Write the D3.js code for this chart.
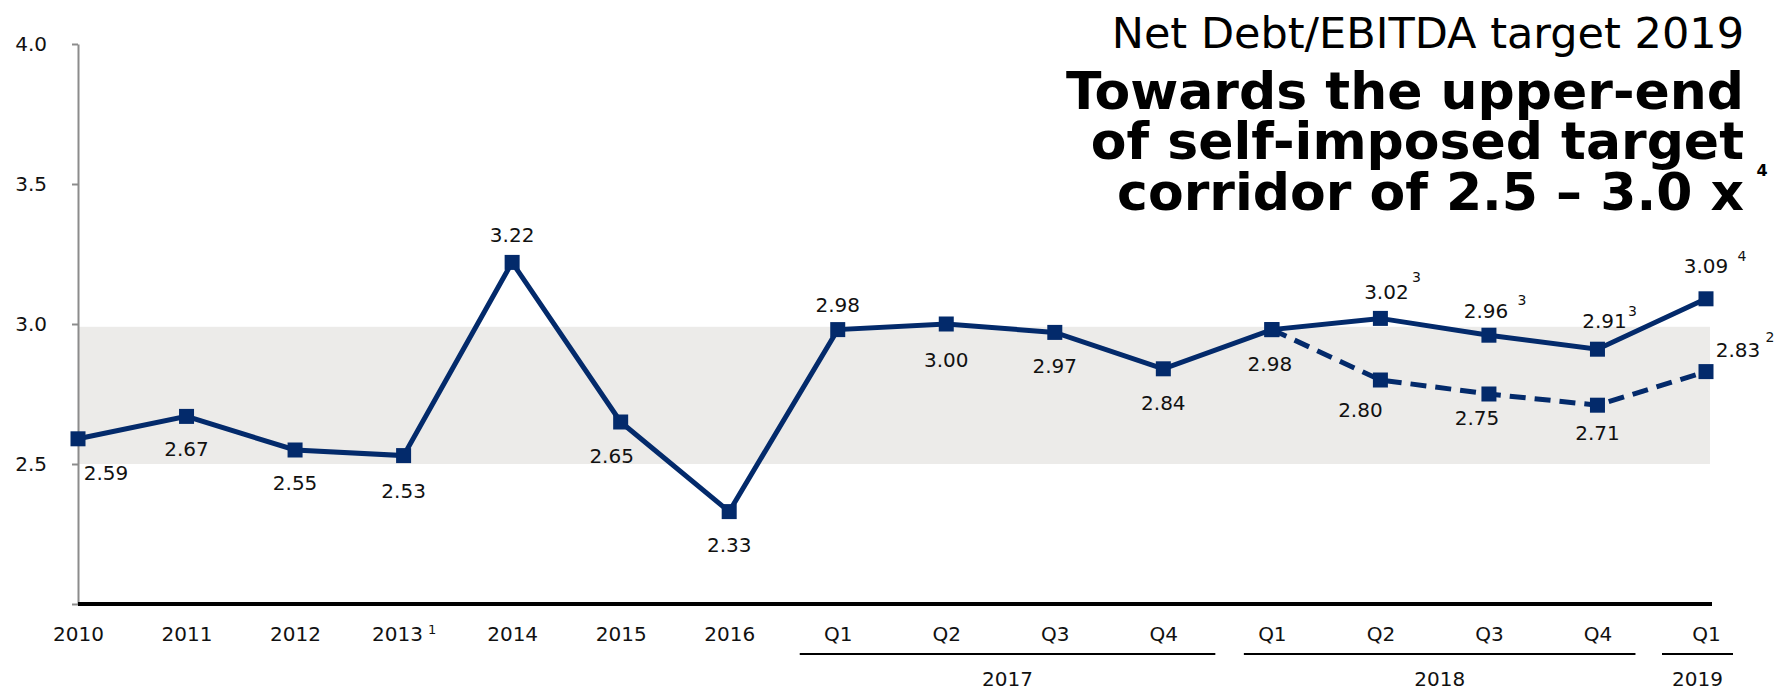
<!DOCTYPE html>
<html>
<head>
<meta charset="utf-8">
<script src="https://cdn.jsdelivr.net/npm/d3@7"></script>
<style>
  html, body { margin: 0; padding: 0; background: #ffffff; }
  svg { display: block; font-family: "DejaVu Sans", Verdana, sans-serif; }
</style>
</head>
<body>
<svg id="chart" width="1776" height="691"></svg>
<script>
// ---------- data ----------
const categories = ["2010","2011","2012","2013","2014","2015","2016","Q1","Q2","Q3","Q4","Q1","Q2","Q3","Q4","Q1"];
const categoryNotes = ["","","","1","","","","","","","","","","","",""];
const solidValues = [2.59, 2.67, 2.55, 2.53, 3.22, 2.65, 2.33, 2.98, 3.00, 2.97, 2.84, 2.98, 3.02, 2.96, 2.91, 3.09];
const solidNotes  = ["","","","","","","","","","","","","3","3","3","4"];
const dashedStart = 11;
const dashedValues = [2.98, 2.80, 2.75, 2.71, 2.83];
const dashedNotes  = ["","","","","2"];
const groupYears = ["2017", "2018", "2019"];
const groupFrom  = [7, 11, 15];
const groupTo    = [10, 14, 15];
const yTicks = [2.0, 2.5, 3.0, 3.5, 4.0];
const yDomain = [2.0, 4.0];
const corridor = [2.5, 2.99];
const titleLine = "Net Debt/EBITDA target 2019";
const headline = ["Towards the upper-end", "of self-imposed target", "corridor of 2.5 \u2013 3.0 x"];
const headlineNote = "4";

// ---------- layout ----------
const navy = "#032a6b";
const svg = d3.select("#chart");
const x = d3.scalePoint().domain(d3.range(categories.length)).range([78, 1706]);
const y = d3.scaleLinear().domain(yDomain).range([604, 44]);

// corridor band
svg.append("rect")
  .attr("x", x(0)).attr("width", 1710 - x(0))
  .attr("y", y(corridor[1])).attr("height", y(corridor[0]) - y(corridor[1]))
  .attr("fill", "#ecebe9");

// y axis
const yAxis = d3.axisLeft(y).tickValues(yTicks).tickSize(6).tickSizeOuter(0).tickPadding(25)
  .tickFormat(d => d === 2.0 ? "" : d3.format(".1f")(d));
const gy = svg.append("g").attr("transform", `translate(${x(0)},0)`).call(yAxis);
gy.selectAll("path, line").attr("stroke", "#8c8c8c").attr("stroke-width", 2);
gy.selectAll("text").attr("font-size", 20).attr("fill", "#111").attr("font-family", "DejaVu Sans, Verdana, sans-serif");

// x axis
const xAxis = d3.axisBottom(x).tickSize(0).tickPadding(23).tickFormat(i => categories[i]);
const gx = svg.append("g").attr("transform", `translate(0,${y(yDomain[0])})`).call(xAxis);
gx.select(".domain").remove();
gx.selectAll("text").attr("font-size", 20).attr("fill", "#111").attr("font-family", "DejaVu Sans, Verdana, sans-serif")
  .each(function(i) {
    if (categoryNotes[i]) {
      d3.select(this).append("tspan").attr("font-size", 13).attr("dy", "-0.55em").attr("dx", 5).text(categoryNotes[i]);
    }
  });
svg.append("line")
  .attr("x1", x(0)).attr("x2", x(categories.length - 1) + 6)
  .attr("y1", y(yDomain[0])).attr("y2", y(yDomain[0]))
  .attr("stroke", "#000").attr("stroke-width", 4);

// group underlines + years
const padL = [38, 28, 44], padR = [52, 38, 27];
groupYears.forEach((yr, k) => {
  const x1 = x(groupFrom[k]) - padL[k], x2 = x(groupTo[k]) + padR[k];
  svg.append("line").attr("x1", x1).attr("x2", x2).attr("y1", 654).attr("y2", 654)
    .attr("stroke", "#000").attr("stroke-width", 2);
  svg.append("text").attr("x", (x1 + x2) / 2).attr("y", 686).attr("text-anchor", "middle")
    .attr("font-size", 20).attr("fill", "#111").text(yr);
});

// lines
const line = d3.line().x(d => x(d.i)).y(d => y(d.v));
const solid = solidValues.map((v, i) => ({ i, v }));
const dashed = dashedValues.map((v, k) => ({ i: dashedStart + k, v }));

svg.append("path").datum(dashed).attr("d", line)
  .attr("fill", "none").attr("stroke", navy).attr("stroke-width", 5).attr("stroke-dasharray", "16,9");
svg.append("path").datum(solid).attr("d", line)
  .attr("fill", "none").attr("stroke", navy).attr("stroke-width", 5).attr("stroke-linejoin", "miter");

const ms = 15;
svg.selectAll(".m").data(solid.concat(dashed)).enter().append("rect")
  .attr("x", d => x(d.i) - ms / 2).attr("y", d => y(d.v) - ms / 2)
  .attr("width", ms).attr("height", ms).attr("fill", navy);

// data labels
const solidOff = [[28,34],[0,32],[0,33],[0,35],[0,-28],[-9,34],[0,33],[0,-25],[0,36],[0,33],[0,34],[-2,34],[6,-27],[-3,-24],[7,-28],[0,-33]];
const solidSup = {12:[36,-41], 13:[33,-35], 14:[35,-38], 15:[36,-43]};
const dashedOff = [null,[-20,30],[-12,24],[0,28],[32,-22]];
const dashedSup = {4:[64,-35]};

function label(xv, yv, off, txt) {
  svg.append("text").attr("x", xv + off[0]).attr("y", yv + off[1]).attr("dy", "0.36em")
    .attr("text-anchor", "middle").attr("font-size", 20).attr("fill", "#111").text(txt);
}
function sup(xv, yv, off, txt) {
  svg.append("text").attr("x", xv + off[0]).attr("y", yv + off[1]).attr("dy", "0.36em")
    .attr("text-anchor", "middle").attr("font-size", 14).attr("fill", "#111").text(txt);
}
solid.forEach((d, k) => {
  label(x(d.i), y(d.v), solidOff[k], d3.format(".2f")(d.v));
  if (solidNotes[k]) sup(x(d.i), y(d.v), solidSup[k], solidNotes[k]);
});
dashed.forEach((d, k) => {
  if (!dashedOff[k]) return;
  label(x(d.i), y(d.v), dashedOff[k], d3.format(".2f")(d.v));
  if (dashedNotes[k]) sup(x(d.i), y(d.v), dashedSup[k], dashedNotes[k]);
});

// titles
svg.append("text").attr("x", 1744).attr("y", 48).attr("text-anchor", "end")
  .attr("font-size", 43).attr("fill", "#000").text(titleLine);
const hb = [109, 159, 210];
headline.forEach((t, k) => {
  svg.append("text").attr("x", 1744).attr("y", hb[k]).attr("text-anchor", "end")
    .attr("font-size", 52).attr("font-weight", "bold").attr("fill", "#000").text(t);
});
svg.append("text").attr("x", 1762).attr("y", 176).attr("text-anchor", "middle")
  .attr("font-size", 16).attr("font-weight", "bold").attr("fill", "#000").text(headlineNote);
</script>
</body>
</html>
